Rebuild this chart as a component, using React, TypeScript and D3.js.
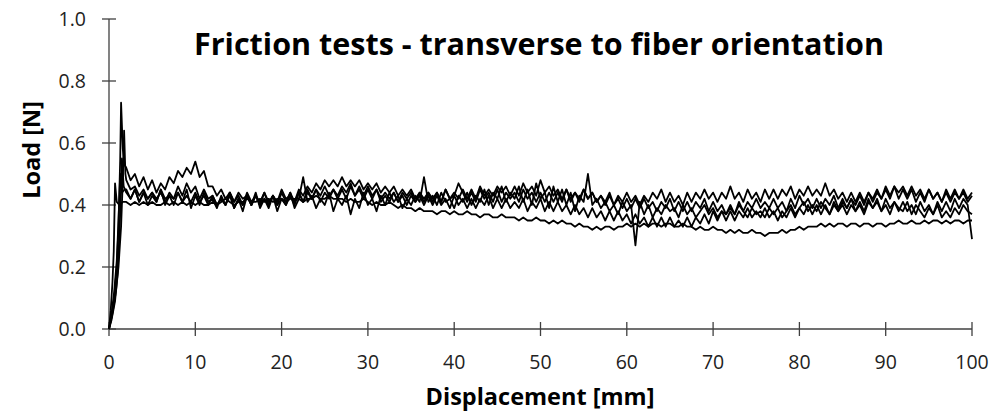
import React from "react";
import * as d3 from "d3";

const TITLE = "Friction tests - transverse to fiber orientation";
const X_LABEL = "Displacement [mm]";
const Y_LABEL = "Load [N]";
const X_TICKS = [0, 10, 20, 30, 40, 50, 60, 70, 80, 90, 100];
const Y_TICKS = [0, 0.2, 0.4, 0.6, 0.8, 1.0];

// Initial loading ramps [displacement, load]
const RAMP1: [number, number][] = [[0, 0], [0.3, 0.04], [0.6, 0.1], [0.9, 0.2], [1.1, 0.33], [1.3, 0.55], [1.4, 0.73], [1.6, 0.58], [1.8, 0.53]];
const RAMP2: [number, number][] = [[0, 0], [0.2, 0.06], [0.4, 0.15], [0.55, 0.25], [0.7, 0.47], [0.9, 0.41], [1.2, 0.4], [1.6, 0.41]];
const RAMP3: [number, number][] = [[0, 0], [0.4, 0.05], [0.8, 0.12], [1.1, 0.2], [1.4, 0.33], [1.6, 0.48], [1.75, 0.64], [1.9, 0.5]];
const RAMP4: [number, number][] = [[0, 0], [0.3, 0.03], [0.7, 0.09], [1.0, 0.18], [1.2, 0.3], [1.4, 0.45], [1.5, 0.55], [1.7, 0.46]];
const RAMP5: [number, number][] = [[0, 0], [0.3, 0.05], [0.6, 0.12], [0.9, 0.22], [1.1, 0.35], [1.3, 0.5], [1.5, 0.44], [1.8, 0.45]];

// Sliding phase, sampled every 0.5 mm from 2 mm to 100 mm
const START = 2;
const STEP = 0.5;

const TEST1 = [
  0.52, 0.48, 0.50, 0.46, 0.49, 0.45, 0.48, 0.44, 0.47, 0.45,
  0.49, 0.47, 0.51, 0.49, 0.52, 0.50, 0.54, 0.49, 0.51, 0.46,
  0.46, 0.43, 0.45, 0.42, 0.44, 0.41, 0.44, 0.42, 0.43, 0.40,
  0.43, 0.41, 0.44, 0.40, 0.43, 0.41, 0.45, 0.42, 0.43, 0.41,
  0.45, 0.43, 0.46, 0.44, 0.47, 0.45, 0.48, 0.46, 0.48, 0.46,
  0.49, 0.46, 0.48, 0.46, 0.48, 0.45, 0.47, 0.45, 0.47, 0.44,
  0.46, 0.44, 0.46, 0.43, 0.45, 0.43, 0.45, 0.42, 0.44, 0.42,
  0.44, 0.42, 0.44, 0.41, 0.45, 0.42, 0.44, 0.42, 0.45, 0.42,
  0.45, 0.42, 0.46, 0.43, 0.45, 0.43, 0.46, 0.44, 0.46, 0.43,
  0.46, 0.43, 0.47, 0.44, 0.46, 0.43, 0.48, 0.44, 0.46, 0.43,
  0.45, 0.42, 0.45, 0.41, 0.44, 0.42, 0.45, 0.42, 0.44, 0.41,
  0.43, 0.41, 0.44, 0.40, 0.43, 0.41, 0.44, 0.41, 0.43, 0.40,
  0.43, 0.41, 0.44, 0.42, 0.45, 0.41, 0.44, 0.41, 0.43, 0.40,
  0.44, 0.41, 0.44, 0.42, 0.45, 0.42, 0.44, 0.41, 0.44, 0.42,
  0.46, 0.42, 0.44, 0.41, 0.45, 0.42, 0.44, 0.41, 0.45, 0.42,
  0.45, 0.42, 0.45, 0.43, 0.46, 0.42, 0.45, 0.43, 0.46, 0.43,
  0.45, 0.43, 0.47, 0.43, 0.45, 0.42, 0.44, 0.41, 0.44, 0.41,
  0.44, 0.41, 0.44, 0.42, 0.45, 0.42, 0.46, 0.43, 0.46, 0.44,
  0.46, 0.43, 0.46, 0.43, 0.45, 0.42, 0.45, 0.42, 0.44, 0.41,
  0.44, 0.41, 0.44, 0.42, 0.44, 0.41, 0.43,
];

const TEST2 = [
  0.41, 0.40, 0.41, 0.40, 0.41, 0.40, 0.41, 0.40, 0.40, 0.41,
  0.40, 0.41, 0.40, 0.41, 0.40, 0.41, 0.40, 0.41, 0.40, 0.40,
  0.41, 0.40, 0.41, 0.42, 0.41, 0.40, 0.41, 0.41, 0.42, 0.41,
  0.41, 0.42, 0.41, 0.42, 0.41, 0.42, 0.42, 0.41, 0.42, 0.42,
  0.42, 0.41, 0.42, 0.42, 0.43, 0.42, 0.42, 0.43, 0.42, 0.42,
  0.42, 0.41, 0.42, 0.41, 0.41, 0.42, 0.41, 0.40, 0.41, 0.40,
  0.40, 0.41, 0.40, 0.39, 0.40, 0.39, 0.39, 0.38, 0.39, 0.38,
  0.38, 0.38, 0.37, 0.38, 0.38, 0.37, 0.38, 0.37, 0.37, 0.38,
  0.37, 0.37, 0.36, 0.37, 0.37, 0.36, 0.36, 0.37, 0.36, 0.36,
  0.36, 0.35, 0.36, 0.35, 0.35, 0.36, 0.35, 0.35, 0.34, 0.35,
  0.34, 0.35, 0.34, 0.34, 0.33, 0.34, 0.33, 0.33, 0.32, 0.33,
  0.32, 0.33, 0.33, 0.32, 0.33, 0.33, 0.34, 0.33, 0.34, 0.33,
  0.34, 0.33, 0.34, 0.34, 0.33, 0.34, 0.34, 0.33, 0.33, 0.34,
  0.33, 0.33, 0.32, 0.33, 0.32, 0.32, 0.33, 0.32, 0.32, 0.31,
  0.32, 0.31, 0.32, 0.31, 0.31, 0.32, 0.31, 0.31, 0.30, 0.31,
  0.31, 0.31, 0.32, 0.31, 0.32, 0.32, 0.33, 0.32, 0.33, 0.33,
  0.33, 0.34, 0.33, 0.34, 0.33, 0.34, 0.34, 0.33, 0.34, 0.34,
  0.33, 0.34, 0.34, 0.33, 0.34, 0.34, 0.33, 0.34, 0.34, 0.35,
  0.34, 0.34, 0.35, 0.34, 0.34, 0.35, 0.34, 0.35, 0.35, 0.34,
  0.35, 0.34, 0.35, 0.35, 0.34, 0.35, 0.35,
];

const TEST3 = [
  0.48, 0.45, 0.46, 0.43, 0.45, 0.42, 0.44, 0.42, 0.44, 0.41,
  0.44, 0.42, 0.44, 0.41, 0.43, 0.41, 0.44, 0.41, 0.43, 0.40,
  0.43, 0.40, 0.42, 0.40, 0.44, 0.41, 0.43, 0.40, 0.44, 0.41,
  0.43, 0.40, 0.44, 0.41, 0.43, 0.40, 0.44, 0.41, 0.44, 0.41,
  0.44, 0.41, 0.44, 0.42, 0.45, 0.41, 0.44, 0.42, 0.45, 0.42,
  0.45, 0.42, 0.46, 0.43, 0.45, 0.42, 0.45, 0.42, 0.45, 0.41,
  0.43, 0.41, 0.44, 0.41, 0.43, 0.40, 0.43, 0.41, 0.43, 0.40,
  0.43, 0.40, 0.43, 0.40, 0.42, 0.39, 0.43, 0.40, 0.42, 0.39,
  0.42, 0.39, 0.42, 0.40, 0.43, 0.39, 0.42, 0.39, 0.42, 0.39,
  0.41, 0.39, 0.42, 0.38, 0.41, 0.39, 0.42, 0.38, 0.41, 0.38,
  0.41, 0.38, 0.40, 0.37, 0.40, 0.37, 0.39, 0.36, 0.39, 0.36,
  0.38, 0.35, 0.38, 0.35, 0.38, 0.35, 0.37, 0.34, 0.37, 0.34,
  0.36, 0.33, 0.36, 0.33, 0.36, 0.33, 0.36, 0.33, 0.35, 0.33,
  0.36, 0.33, 0.36, 0.34, 0.37, 0.34, 0.38, 0.35, 0.38, 0.35,
  0.38, 0.35, 0.38, 0.36, 0.39, 0.36, 0.38, 0.36, 0.39, 0.36,
  0.38, 0.35, 0.38, 0.36, 0.39, 0.36, 0.39, 0.37, 0.40, 0.37,
  0.40, 0.37, 0.40, 0.37, 0.41, 0.38, 0.40, 0.37, 0.40, 0.38,
  0.41, 0.38, 0.42, 0.39, 0.41, 0.38, 0.42, 0.39, 0.41, 0.38,
  0.41, 0.38, 0.40, 0.37, 0.41, 0.38, 0.40, 0.37, 0.41, 0.38,
  0.41, 0.38, 0.42, 0.39, 0.42, 0.40, 0.29,
];

const TEST4 = [
  0.44, 0.42, 0.45, 0.41, 0.44, 0.40, 0.43, 0.41, 0.45, 0.40,
  0.43, 0.40, 0.44, 0.41, 0.45, 0.39, 0.43, 0.40, 0.44, 0.41,
  0.42, 0.39, 0.43, 0.40, 0.44, 0.39, 0.42, 0.38, 0.43, 0.40,
  0.44, 0.39, 0.42, 0.40, 0.43, 0.38, 0.42, 0.40, 0.44, 0.39,
  0.42, 0.49, 0.41, 0.43, 0.39, 0.42, 0.40, 0.44, 0.38, 0.42,
  0.40, 0.43, 0.37, 0.42, 0.39, 0.44, 0.40, 0.42, 0.38, 0.43,
  0.40, 0.44, 0.41, 0.43, 0.39, 0.42, 0.40, 0.43, 0.41, 0.49,
  0.41, 0.43, 0.40, 0.44, 0.41, 0.42, 0.39, 0.43, 0.41, 0.44,
  0.40, 0.43, 0.41, 0.45, 0.40, 0.44, 0.42, 0.46, 0.41, 0.44,
  0.42, 0.46, 0.41, 0.45, 0.40, 0.47, 0.42, 0.44, 0.39, 0.46,
  0.41, 0.45, 0.40, 0.44, 0.38, 0.43, 0.41, 0.50, 0.40, 0.42,
  0.39, 0.41, 0.38, 0.40, 0.37, 0.41, 0.38, 0.40, 0.27, 0.41,
  0.37, 0.40, 0.36, 0.39, 0.37, 0.40, 0.38, 0.39, 0.36, 0.40,
  0.37, 0.39, 0.36, 0.38, 0.40, 0.37, 0.39, 0.36, 0.38, 0.37,
  0.39, 0.37, 0.40, 0.38, 0.36, 0.39, 0.37, 0.38, 0.36, 0.39,
  0.37, 0.39, 0.36, 0.38, 0.40, 0.37, 0.39, 0.41, 0.38, 0.40,
  0.38, 0.41, 0.39, 0.37, 0.40, 0.38, 0.41, 0.39, 0.42, 0.38,
  0.40, 0.37, 0.41, 0.39, 0.42, 0.38, 0.40, 0.37, 0.41, 0.39,
  0.38, 0.41, 0.37, 0.40, 0.38, 0.36, 0.39, 0.37, 0.40, 0.36,
  0.38, 0.36, 0.39, 0.37, 0.40, 0.38, 0.37,
];

const TEST5 = [
  0.45, 0.42, 0.45, 0.41, 0.44, 0.42, 0.44, 0.41, 0.45, 0.42,
  0.43, 0.42, 0.46, 0.43, 0.47, 0.44, 0.46, 0.42, 0.45, 0.42,
  0.43, 0.40, 0.42, 0.40, 0.43, 0.39, 0.42, 0.40, 0.43, 0.40,
  0.43, 0.40, 0.42, 0.39, 0.43, 0.40, 0.42, 0.40, 0.43, 0.40,
  0.44, 0.41, 0.45, 0.42, 0.45, 0.43, 0.46, 0.43, 0.45, 0.43,
  0.46, 0.44, 0.47, 0.43, 0.46, 0.43, 0.46, 0.43, 0.45, 0.42,
  0.44, 0.42, 0.44, 0.41, 0.44, 0.42, 0.44, 0.41, 0.44, 0.41,
  0.44, 0.41, 0.44, 0.41, 0.45, 0.42, 0.43, 0.47, 0.44, 0.41,
  0.44, 0.41, 0.45, 0.42, 0.44, 0.41, 0.45, 0.41, 0.44, 0.42,
  0.44, 0.41, 0.45, 0.42, 0.44, 0.41, 0.44, 0.41, 0.44, 0.41,
  0.44, 0.41, 0.45, 0.42, 0.44, 0.41, 0.45, 0.42, 0.44, 0.41,
  0.43, 0.40, 0.43, 0.40, 0.42, 0.39, 0.42, 0.39, 0.42, 0.39,
  0.42, 0.39, 0.41, 0.38, 0.41, 0.39, 0.42, 0.38, 0.41, 0.38,
  0.41, 0.38, 0.41, 0.39, 0.42, 0.38, 0.41, 0.38, 0.40, 0.37,
  0.40, 0.37, 0.41, 0.38, 0.41, 0.39, 0.42, 0.39, 0.41, 0.39,
  0.42, 0.39, 0.41, 0.38, 0.42, 0.39, 0.43, 0.40, 0.42, 0.39,
  0.42, 0.39, 0.42, 0.40, 0.43, 0.39, 0.42, 0.39, 0.42, 0.40,
  0.43, 0.40, 0.44, 0.41, 0.44, 0.42, 0.45, 0.42, 0.46, 0.42,
  0.45, 0.42, 0.45, 0.41, 0.44, 0.41, 0.45, 0.42, 0.44, 0.41,
  0.45, 0.42, 0.45, 0.42, 0.45, 0.42, 0.44,
];

const RAMPS = [RAMP1, RAMP2, RAMP3, RAMP4, RAMP5];
const TESTS = [TEST1, TEST2, TEST3, TEST4, TEST5];

const W = 1003;
const H = 414;
const FONT = "'Open Sans', 'Noto Sans', sans-serif";

export default function App() {
  const x = d3.scaleLinear().domain([0, 100]).range([109, 972]);
  const y = d3.scaleLinear().domain([0, 1]).range([329, 19]);
  const line = d3
    .line<[number, number]>()
    .x((d) => x(d[0]))
    .y((d) => y(d[1]));

  const series: [number, number][][] = TESTS.map((vals, k) => [
    ...RAMPS[k],
    ...vals.map((v, i) => [START + i * STEP, v] as [number, number]),
  ]);

  const axisColor = "#404040";

  return (
    <svg
      width={W}
      height={H}
      style={{ position: "absolute", left: 0, top: 0, background: "#fff" }}
      fontFamily={FONT}
    >
      <rect x={0} y={0} width={W} height={H} fill="#fff" />
      {/* axes */}
      <line x1={x(0)} x2={x(100)} y1={y(0)} y2={y(0)} stroke={axisColor} strokeWidth={1.3} />
      <line x1={x(0)} x2={x(0)} y1={y(0)} y2={y(1)} stroke={axisColor} strokeWidth={1.3} />
      {X_TICKS.map((t) => (
        <g key={"xt" + t}>
          <line x1={x(t)} x2={x(t)} y1={y(0) - 7} y2={y(0) + 7} stroke={axisColor} strokeWidth={1.3} />
          <text x={x(t)} y={y(0) + 40} textAnchor="middle" fontSize={19.5} fill="#222">
            {t}
          </text>
        </g>
      ))}
      {Y_TICKS.map((t) => (
        <g key={"yt" + t}>
          <line x1={x(0) - 7} x2={x(0) + 7} y1={y(t)} y2={y(t)} stroke={axisColor} strokeWidth={1.3} />
          <text x={x(0) - 23} y={y(t)} dy="0.36em" textAnchor="end" fontSize={19.5} fill="#222">
            {t.toFixed(1)}
          </text>
        </g>
      ))}
      {/* data */}
      {series.map((s, i) => (
        <path key={"s" + i} d={line(s) || ""} fill="none" stroke="#000" strokeWidth={1.8} strokeLinejoin="round" />
      ))}
      {/* titles */}
      <text x={539} y={55} textAnchor="middle" fontSize={30.5} fontWeight="bold" fill="#000">
        {TITLE}
      </text>
      <text x={540} y={405} textAnchor="middle" fontSize={23.5} fontWeight="bold" fill="#000">
        {X_LABEL}
      </text>
      <text
        transform={`translate(40, 150) rotate(-90)`}
        textAnchor="middle"
        fontSize={23.5}
        fontWeight="bold"
        fill="#000"
      >
        {Y_LABEL}
      </text>
    </svg>
  );
}
